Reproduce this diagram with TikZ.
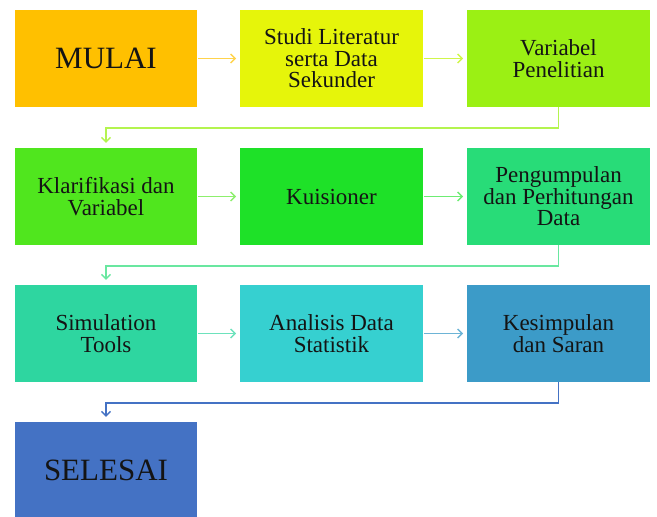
\documentclass[tikz,border=0pt]{standalone}
\usepackage{fontspec}
\setmainfont{Liberation Serif}
\definecolor{fcorange}{RGB}{255,192,0}
\definecolor{fcyellow}{RGB}{230,245,10}
\definecolor{fclime}{RGB}{155,240,20}
\definecolor{fcgreen}{RGB}{80,230,30}
\definecolor{fcgreenb}{RGB}{30,225,40}
\definecolor{fcmint}{RGB}{40,220,120}
\definecolor{fcteal}{RGB}{46,214,160}
\definecolor{fccyan}{RGB}{54,208,208}
\definecolor{fcsky}{RGB}{60,155,200}
\definecolor{fcblue}{RGB}{68,114,196}
\definecolor{fctext}{RGB}{20,20,20}
\usetikzlibrary{arrows.meta,positioning}

\begin{document}
\begin{tikzpicture}[x=1pt,y=-1pt,
  stage/.style={rectangle,minimum width=182.5pt,minimum height=97pt,inner sep=0pt,
    align=center,text=fctext,font=\rmfamily\fontsize{23}{21.5}\selectfont},
  endstage/.style={stage,font=\rmfamily\fontsize{31}{31}\selectfont},
  flow/.style={line width=1.6pt,-{Straight Barb[length=4.5pt,width=9pt,line width=1.4pt]},
    shorten <=1pt,shorten >=4pt},
  turn/.style={flow,shorten <=0pt,shorten >=5pt}]
  \useasboundingbox (0,0) rectangle (657,517);
  % Row 1
  \node[endstage,fill=fcorange] (mulai) at (106,58.5) {MULAI};
  \node[stage,fill=fcyellow] (studi) at (331.5,58.5) {Studi Literatur\\serta Data\\Sekunder};
  \node[stage,fill=fclime] (variabel) at (558.5,58.5) {Variabel\\Penelitian};
  \draw[flow,fcorange!70!white] (mulai) -- (studi);
  \draw[flow,fcyellow!50!fclime!75!white] (studi) -- (variabel);
  % Row 2
  \node[stage,fill=fcgreen] (klarif) at (106,196.5) {Klarifikasi dan\\Variabel};
  \node[stage,fill=fcgreenb] (kuis) at (331.5,196.5) {Kuisioner};
  \node[stage,fill=fcmint] (kumpul) at (558.5,196.5) {Pengumpulan\\dan Perhitungan\\Data};
  \draw[turn,fclime!75!white] (variabel.south) -- ++(0,21) -| (klarif.north);
  \draw[flow,fcgreen!65!white] (klarif) -- (kuis);
  \draw[flow,fcgreenb!65!white] (kuis) -- (kumpul);
  % Row 3
  \node[stage,fill=fcteal] (simul) at (106,333.5) {Simulation\\Tools};
  \node[stage,fill=fccyan] (analisis) at (331.5,333.5) {Analisis Data\\Statistik};
  \node[stage,fill=fcsky] (simpul) at (558.5,333.5) {Kesimpulan\\dan Saran};
  \draw[turn,fcmint!70!white] (kumpul.south) -- ++(0,21) -| (simul.north);
  \draw[flow,fcteal!70!white] (simul) -- (analisis);
  \draw[flow,fcsky!75!white] (analisis) -- (simpul);
  % Row 4
  \node[endstage,fill=fcblue] (selesai) at (106,470.5) {SELESAI};
  \draw[turn,fcblue] (simpul.south) -- ++(0,21) -| (selesai.north);
\end{tikzpicture}
\end{document}
